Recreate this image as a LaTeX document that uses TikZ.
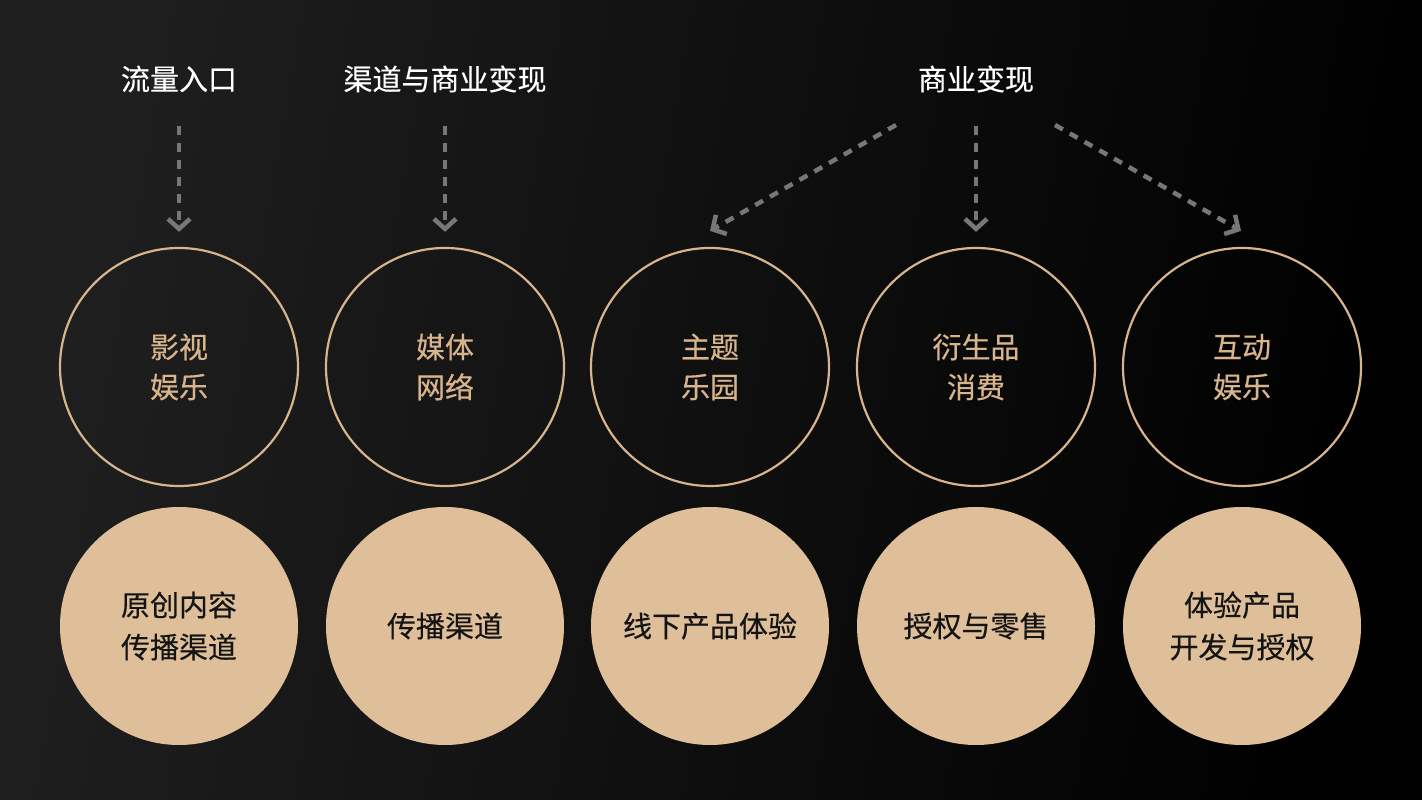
\documentclass[tikz,border=0pt]{standalone}
\usepackage{fontspec}
\newfontfamily\cjk{Noto Sans CJK SC}[FakeBold=0.4]
\usetikzlibrary{arrows.meta}

\definecolor{tan}{HTML}{DFBF99}
\definecolor{tanline}{HTML}{D8B48C}
\definecolor{bgleft}{HTML}{1F1F1F}
\definecolor{arrowgray}{HTML}{777777}

\tikzset{
  title/.style={text=white, font=\cjk\fontsize{29}{34}\selectfont, inner sep=0pt},
  ring/.style={circle, draw=tanline, line width=2.2pt, minimum size=238pt, inner sep=0pt,
    text=tanline, align=center, font=\cjk\fontsize{29}{40}\selectfont},
  disc/.style={circle, fill=tan, minimum size=238pt, inner sep=0pt,
    text=black!92, align=center, font=\cjk\fontsize{29}{42}\selectfont},
  flow/.style={draw=arrowgray, line width=4.5pt, dash pattern=on 9pt off 8pt,
    -{Straight Barb[length=10pt,width=22pt,line width=4.5pt]}}
}

\begin{document}
\begin{tikzpicture}[x=1pt,y=1pt]
			%%%%% START %%%%%
			
			\shade[left color=bgleft, right color=black, shading angle=80] (0,0) rectangle (1422,800);
			\useasboundingbox (0,0) rectangle (1422,800);
			
			\node[title] (t1) at (179,721) {流量入口};
			\node[title] (t2) at (445,721) {渠道与商业变现};
			\node[title] (t3) at (976,721) {商业变现};
			
			\node[ring] (c1) at (179,433) {影视\\娱乐};
			\node[ring] (c2) at (445,433) {媒体\\网络};
			\node[ring] (c3) at (710,433) {主题\\乐园};
			\node[ring] (c4) at (976,433) {衍生品\\消费};
			\node[ring] (c5) at (1242,433) {互动\\娱乐};
			
			\node[disc] (d1) at (179,174) {原创内容\\传播渠道};
			\node[disc] (d2) at (445,174) {传播渠道};
			\node[disc] (d3) at (710,174) {线下产品体验};
			\node[disc] (d4) at (976,174) {授权与零售};
			\node[disc] (d5) at (1242,174) {体验产品\\开发与授权};
			
			\draw[flow] ([yshift=-47]t1.center) -- ([yshift=15]c1.north);
			\draw[flow] ([yshift=-47]t2.center) -- ([yshift=15]c2.north);
			\draw[flow] ([xshift=-80,yshift=-46]t3.center) -- ([xshift=0,yshift=16]c3.north);
			\draw[flow] ([yshift=-47]t3.center) -- ([yshift=15]c4.north);
			\draw[flow] ([xshift=79,yshift=-46]t3.center) -- ([xshift=-1,yshift=16]c5.north);
			
			%%%%% END %%%%%
\end{tikzpicture}
\end{document}
